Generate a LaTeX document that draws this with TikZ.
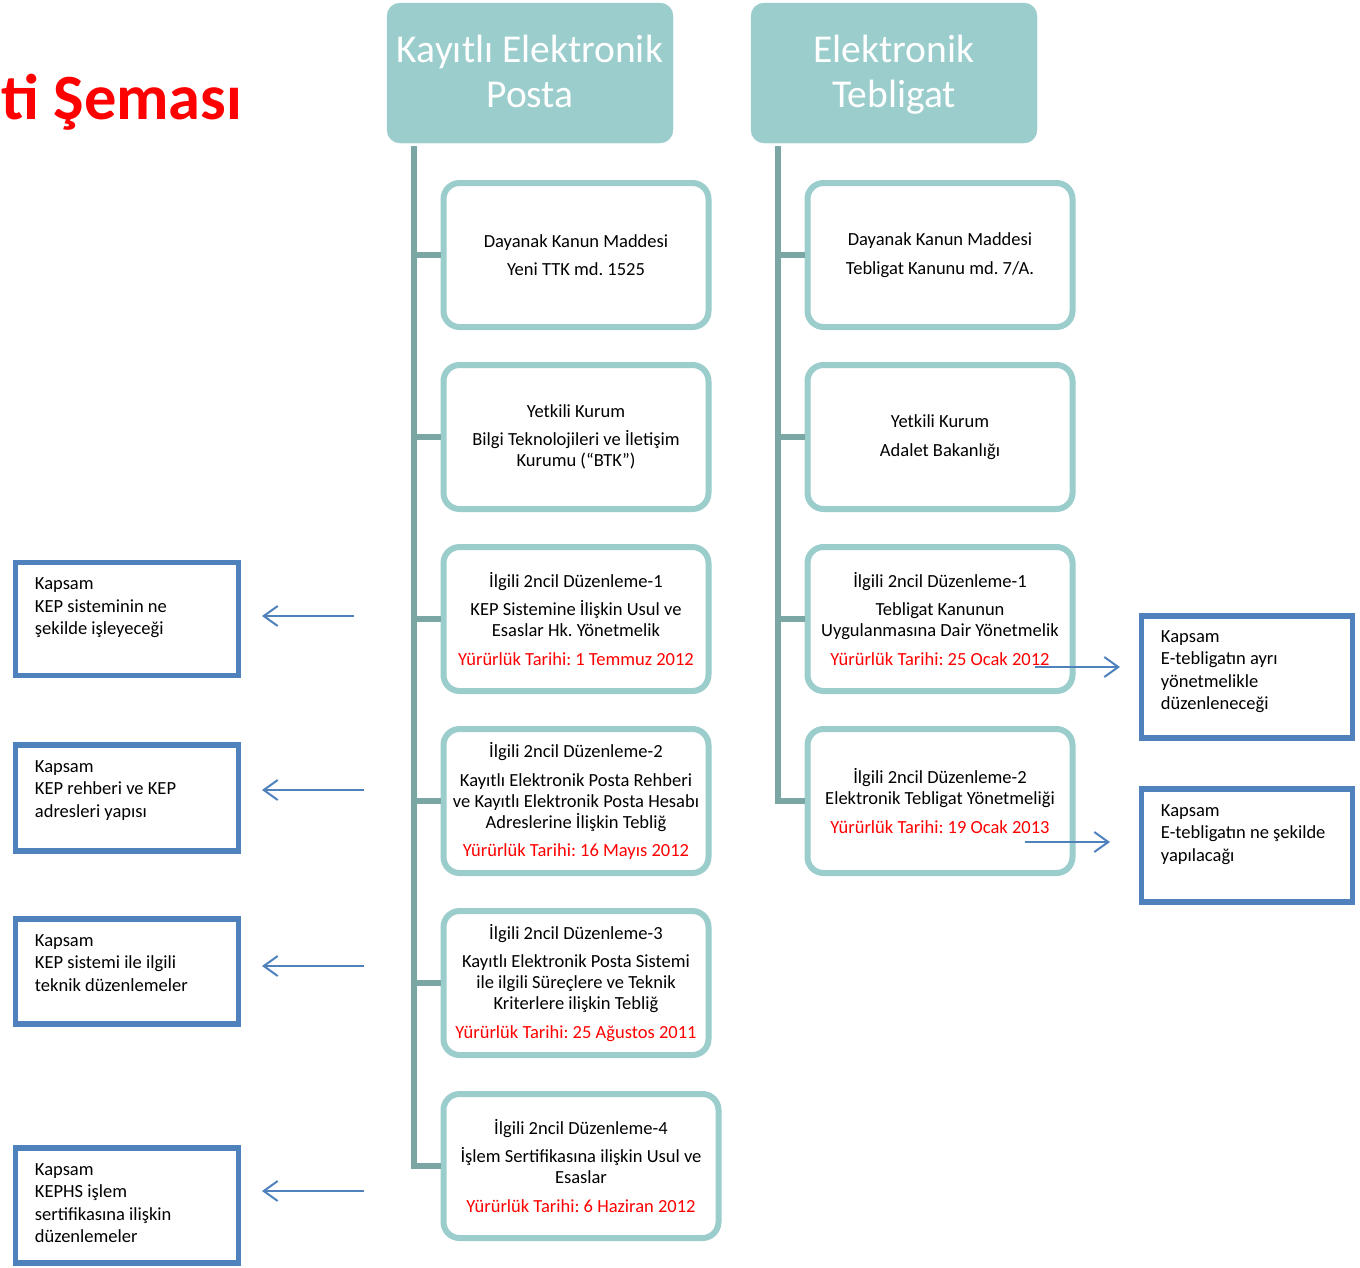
\documentclass[tikz,border=0pt]{standalone}
\usepackage{fontspec}
\setmainfont{Carlito}
\usepackage{xcolor}
\usetikzlibrary{arrows.meta}

\definecolor{tealfill}{RGB}{154,205,204}
\definecolor{trunkgray}{RGB}{122,166,163}
\definecolor{kapblue}{RGB}{79,129,189}
\definecolor{datered}{RGB}{255,0,0}

\newcommand{\yururluk}[1]{{\color{datered}Yürürlük Tarihi: #1}}
\newcommand{\headtop}{\rule{0pt}{31.5pt}}
\newcommand{\headbot}{\rule[-8.5pt]{0pt}{8.5pt}}
\frenchspacing

\begin{document}
\begin{tikzpicture}[x=1pt,y=-1pt,
        headbox/.style={fill=tealfill, draw=tealfill, rounded corners=13pt, minimum width=286pt, minimum height=140pt, inner sep=0pt, text=white, align=center, font=\fontsize{39.5}{45}\selectfont},
        entrybox/.style={draw=tealfill, line width=6pt, fill=white, rounded corners=16pt, minimum width=265pt, minimum height=144pt, inner sep=0pt, align=center, font=\fontsize{18.5}{21}\selectfont},
        kapbox/.style={draw=kapblue, line width=5.5pt, minimum width=223pt, inner sep=0pt},
        kaptext/.style={anchor=north west, inner sep=0pt, align=left, font=\fontsize{18.5}{22.5}\selectfont},
        trunk/.style={draw=trunkgray, line width=6pt},
        kaparrow/.style={draw=kapblue, line width=2pt, -{Straight Barb[length=14pt,width=20pt]}}]
        \useasboundingbox (0,0) rectangle (1360,1267);

        %% Title (cut at the left edge)
        \node [anchor=base west, inner sep=0pt, text=datered, font=\fontsize{64.5}{64.5}\selectfont\bfseries] (title) at (1,119) {ti Şeması};

        %% The two headers
        \node [headbox] (kep) at (530,73) {\headtop Kayıtlı Elektronik\\Posta\headbot};
        \node [headbox] (teb) at (894,73) {\headtop Elektronik\\Tebligat\headbot};

        %% Left column, KEP
        \node [entrybox] (e1) at (576,255) {Dayanak Kanun Maddesi\\[7.5pt]Yeni TTK md. 1525};
        \node [entrybox] (e2) at (576,437) {Yetkili Kurum\\[7.5pt]Bilgi Teknolojileri ve İletişim\\Kurumu (“BTK”)};
        \node [entrybox] (e3) at (576,619) {İlgili 2ncil Düzenleme-1\\[7.5pt]KEP Sistemine İlişkin Usul ve\\Esaslar Hk. Yönetmelik\\[7.5pt]\yururluk{1 Temmuz 2012}};
        \node [entrybox] (e4) at (576,801) {İlgili 2ncil Düzenleme-2\\[7.5pt]Kayıtlı Elektronik Posta Rehberi\\ve Kayıtlı Elektronik Posta Hesabı\\Adreslerine İlişkin Tebliğ\\[7.5pt]\yururluk{16 Mayıs 2012}};
        \node [entrybox] (e5) at (576,983) {İlgili 2ncil Düzenleme-3\\[7.5pt]Kayıtlı Elektronik Posta Sistemi\\ile ilgili Süreçlere ve Teknik\\Kriterlere ilişkin Tebliğ\\[7.5pt]\yururluk{25 Ağustos 2011}};
        \node [entrybox, minimum width=275pt] (e6) at (581,1166) {İlgili 2ncil Düzenleme-4\\[7.5pt]İşlem Sertifikasına ilişkin Usul ve\\Esaslar\\[7.5pt]\yururluk{6 Haziran 2012}};

        %% Right column, Tebligat
        \node [entrybox] (t1) at (940,255) {Dayanak Kanun Maddesi\\[7.5pt]Tebligat Kanunu md. 7/A.};
        \node [entrybox] (t2) at (940,437) {Yetkili Kurum\\[7.5pt]Adalet Bakanlığı};
        \node [entrybox] (t3) at (940,619) {İlgili 2ncil Düzenleme-1\\[7.5pt]Tebligat Kanunun\\Uygulanmasına Dair Yönetmelik\\[7.5pt]\yururluk{25 Ocak 2012}};
        \node [entrybox] (t4) at (940,801) {İlgili 2ncil Düzenleme-2\\Elektronik Tebligat Yönetmeliği\\[7.5pt]\yururluk{19 Ocak 2013}};

        %% Trunks
        \coordinate (kep-top) at (413.5,146);
        \coordinate (teb-top) at (778,146);
        \draw [trunk] (kep-top) |- (e6.west);
        \foreach \e in {e1,e2,e3,e4,e5}
            \draw [trunk] (kep-top |- \e.west) -- (\e.west);
        \draw [trunk] (teb-top) |- (t4.west);
        \foreach \t in {t1,t2,t3}
            \draw [trunk] (teb-top |- \t.west) -- (\t.west);

        %% Kapsam boxes
        \node [kapbox, minimum height=113pt] (k1) at (127,619) {};
        \node [kapbox, minimum height=106pt] (k2) at (127,798) {};
        \node [kapbox, minimum height=105pt] (k3) at (127,971.5) {};
        \node [kapbox, minimum height=115pt] (k4) at (127,1205.5) {};
        \node [kapbox, minimum width=211pt, minimum height=122pt] (r1) at (1247,677) {};
        \node [kapbox, minimum width=211pt, minimum height=113pt] (r2) at (1247,845.5) {};

        \node [kaptext] (k1-text) at ([xshift=22pt,yshift=-18pt]k1.north west) {Kapsam\\KEP sisteminin ne\\şekilde işleyeceği};
        \node [kaptext] (k2-text) at ([xshift=22pt,yshift=-18pt]k2.north west) {Kapsam\\KEP rehberi ve KEP\\adresleri yapısı};
        \node [kaptext] (k3-text) at ([xshift=22pt,yshift=-18pt]k3.north west) {Kapsam\\KEP sistemi ile ilgili\\teknik düzenlemeler};
        \node [kaptext] (k4-text) at ([xshift=22pt,yshift=-18pt]k4.north west) {Kapsam\\KEPHS işlem\\sertifikasına ilişkin\\düzenlemeler};
        \node [kaptext] (r1-text) at ([xshift=22pt,yshift=-17pt]r1.north west) {Kapsam\\E-tebligatın ayrı\\yönetmelikle\\düzenleneceği};
        \node [kaptext] (r2-text) at ([xshift=22pt,yshift=-18pt]r2.north west) {Kapsam\\E-tebligatın ne şekilde\\yapılacağı};

        %% Arrows
        \coordinate (a1-from) at (354,616);   \coordinate (a1-to) at (262,616);
        \coordinate (a2-from) at (364,790);   \coordinate (a2-to) at (262,790);
        \coordinate (a3-from) at (364,966);   \coordinate (a3-to) at (262,966);
        \coordinate (a4-from) at (364,1191);  \coordinate (a4-to) at (262,1191);
        \coordinate (b1-from) at (1035,667);  \coordinate (b1-to) at (1120,667);
        \coordinate (b2-from) at (1025,842);  \coordinate (b2-to) at (1110,842);
        \foreach \a in {a1,a2,a3,a4,b1,b2}
            \draw [kaparrow] (\a-from) -- (\a-to);
    \end{tikzpicture}
\end{document}
